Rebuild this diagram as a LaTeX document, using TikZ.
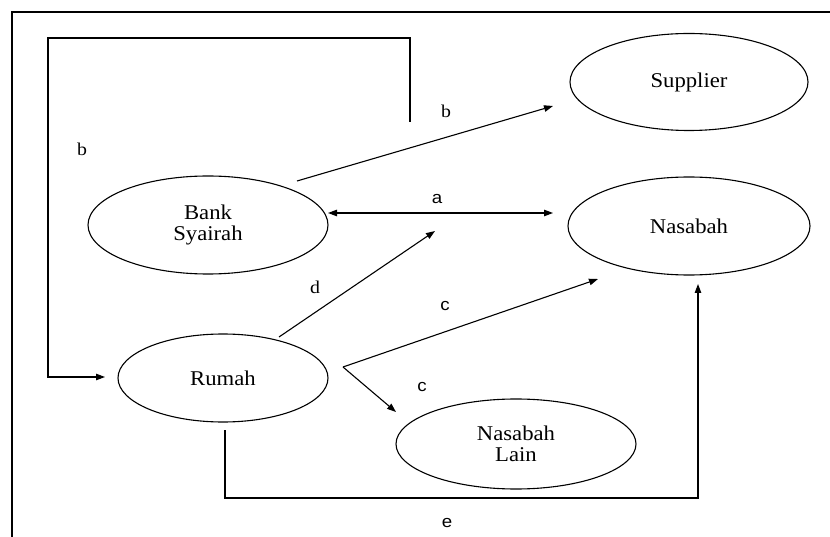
\documentclass[tikz,border=0pt]{standalone}
\usepackage{fontspec}
\usetikzlibrary{shapes.geometric,arrows.meta}
\newfontfamily\nodefont[FakeStretch=1.08]{Liberation Serif}
\newfontfamily\lblserif[FakeStretch=1.1]{Liberation Serif}
\newfontfamily\lblsans[FakeStretch=1.1]{Liberation Sans}
\begin{document}
\begin{tikzpicture}[x=1pt,y=-1pt,
  line width=1.1pt,
  ent/.style={draw, ellipse, inner sep=0pt, align=center,
    font=\nodefont\fontsize{21}{21}\selectfont},
  arr/.style={-{Triangle[length=9pt,width=6.5pt]}},
  dbl/.style={{Triangle[length=9pt,width=6.5pt]}-{Triangle[length=9pt,width=6.5pt]}},
  lbls/.style={font=\lblsans\fontsize{17}{17}\selectfont, inner sep=0pt},
  lblr/.style={font=\lblserif\fontsize{18}{18}\selectfont, inner sep=0pt}]
\useasboundingbox (0,0) rectangle (830,537);
\fill[white] (0,0) rectangle (830,537);

% outer frame (cropped)
\draw (12,537) -- (12,12) -- (830,12);

% entities
\node[ent, minimum width=238pt, minimum height=97pt] (sup) at (689,82) {Supplier};
\node[ent, minimum width=240pt, minimum height=98pt] (bank) at (208,225) {Bank\\Syairah};
\node[ent, minimum width=242pt, minimum height=98pt] (nas) at (689,226) {Nasabah};
\node[ent, minimum width=210pt, minimum height=88pt] (rum) at (223,378) {Rumah};
\node[ent, minimum width=240pt, minimum height=90pt] (lain) at (516,444) {Nasabah\\Lain};

% free ends
\coordinate (bs) at (410,122);
\coordinate (b1) at (297,181);
\coordinate (b2) at (553,106);
\coordinate (a1) at (328,213);
\coordinate (a2) at (553,213);
\coordinate (d1) at (279,337);
\coordinate (d2) at (435,231);
\coordinate (cs) at (343,367);
\coordinate (c1) at (598,279);
\coordinate (c2) at (396,412);
\coordinate (es) at (225,430);
\coordinate (e2) at (698,284);
\coordinate (rin) at (105,377);

% connectors
\draw[arr] (bs) |- (48,38) |- (rin);
\draw[arr] (b1) -- (b2);
\draw[dbl] (a1) -- (a2);
\draw[arr] (d1) -- (d2);
\draw[arr] (cs) -- (c1);
\draw[arr] (cs) -- (c2);
\draw[arr] (es) |- (698,498) -- (e2);

% labels
\node[lblr] (lb1) at (82,149) {b};
\node[lblr] (lb2) at (446,111) {b};
\node[lbls] (la) at (437,199) {a};
\node[lblr] (ld) at (315,287) {d};
\node[lbls] (lc1) at (445,306) {c};
\node[lbls] (lc2) at (422,387) {c};
\node[lbls] (le) at (447,523) {e};
\end{tikzpicture}
\end{document}
